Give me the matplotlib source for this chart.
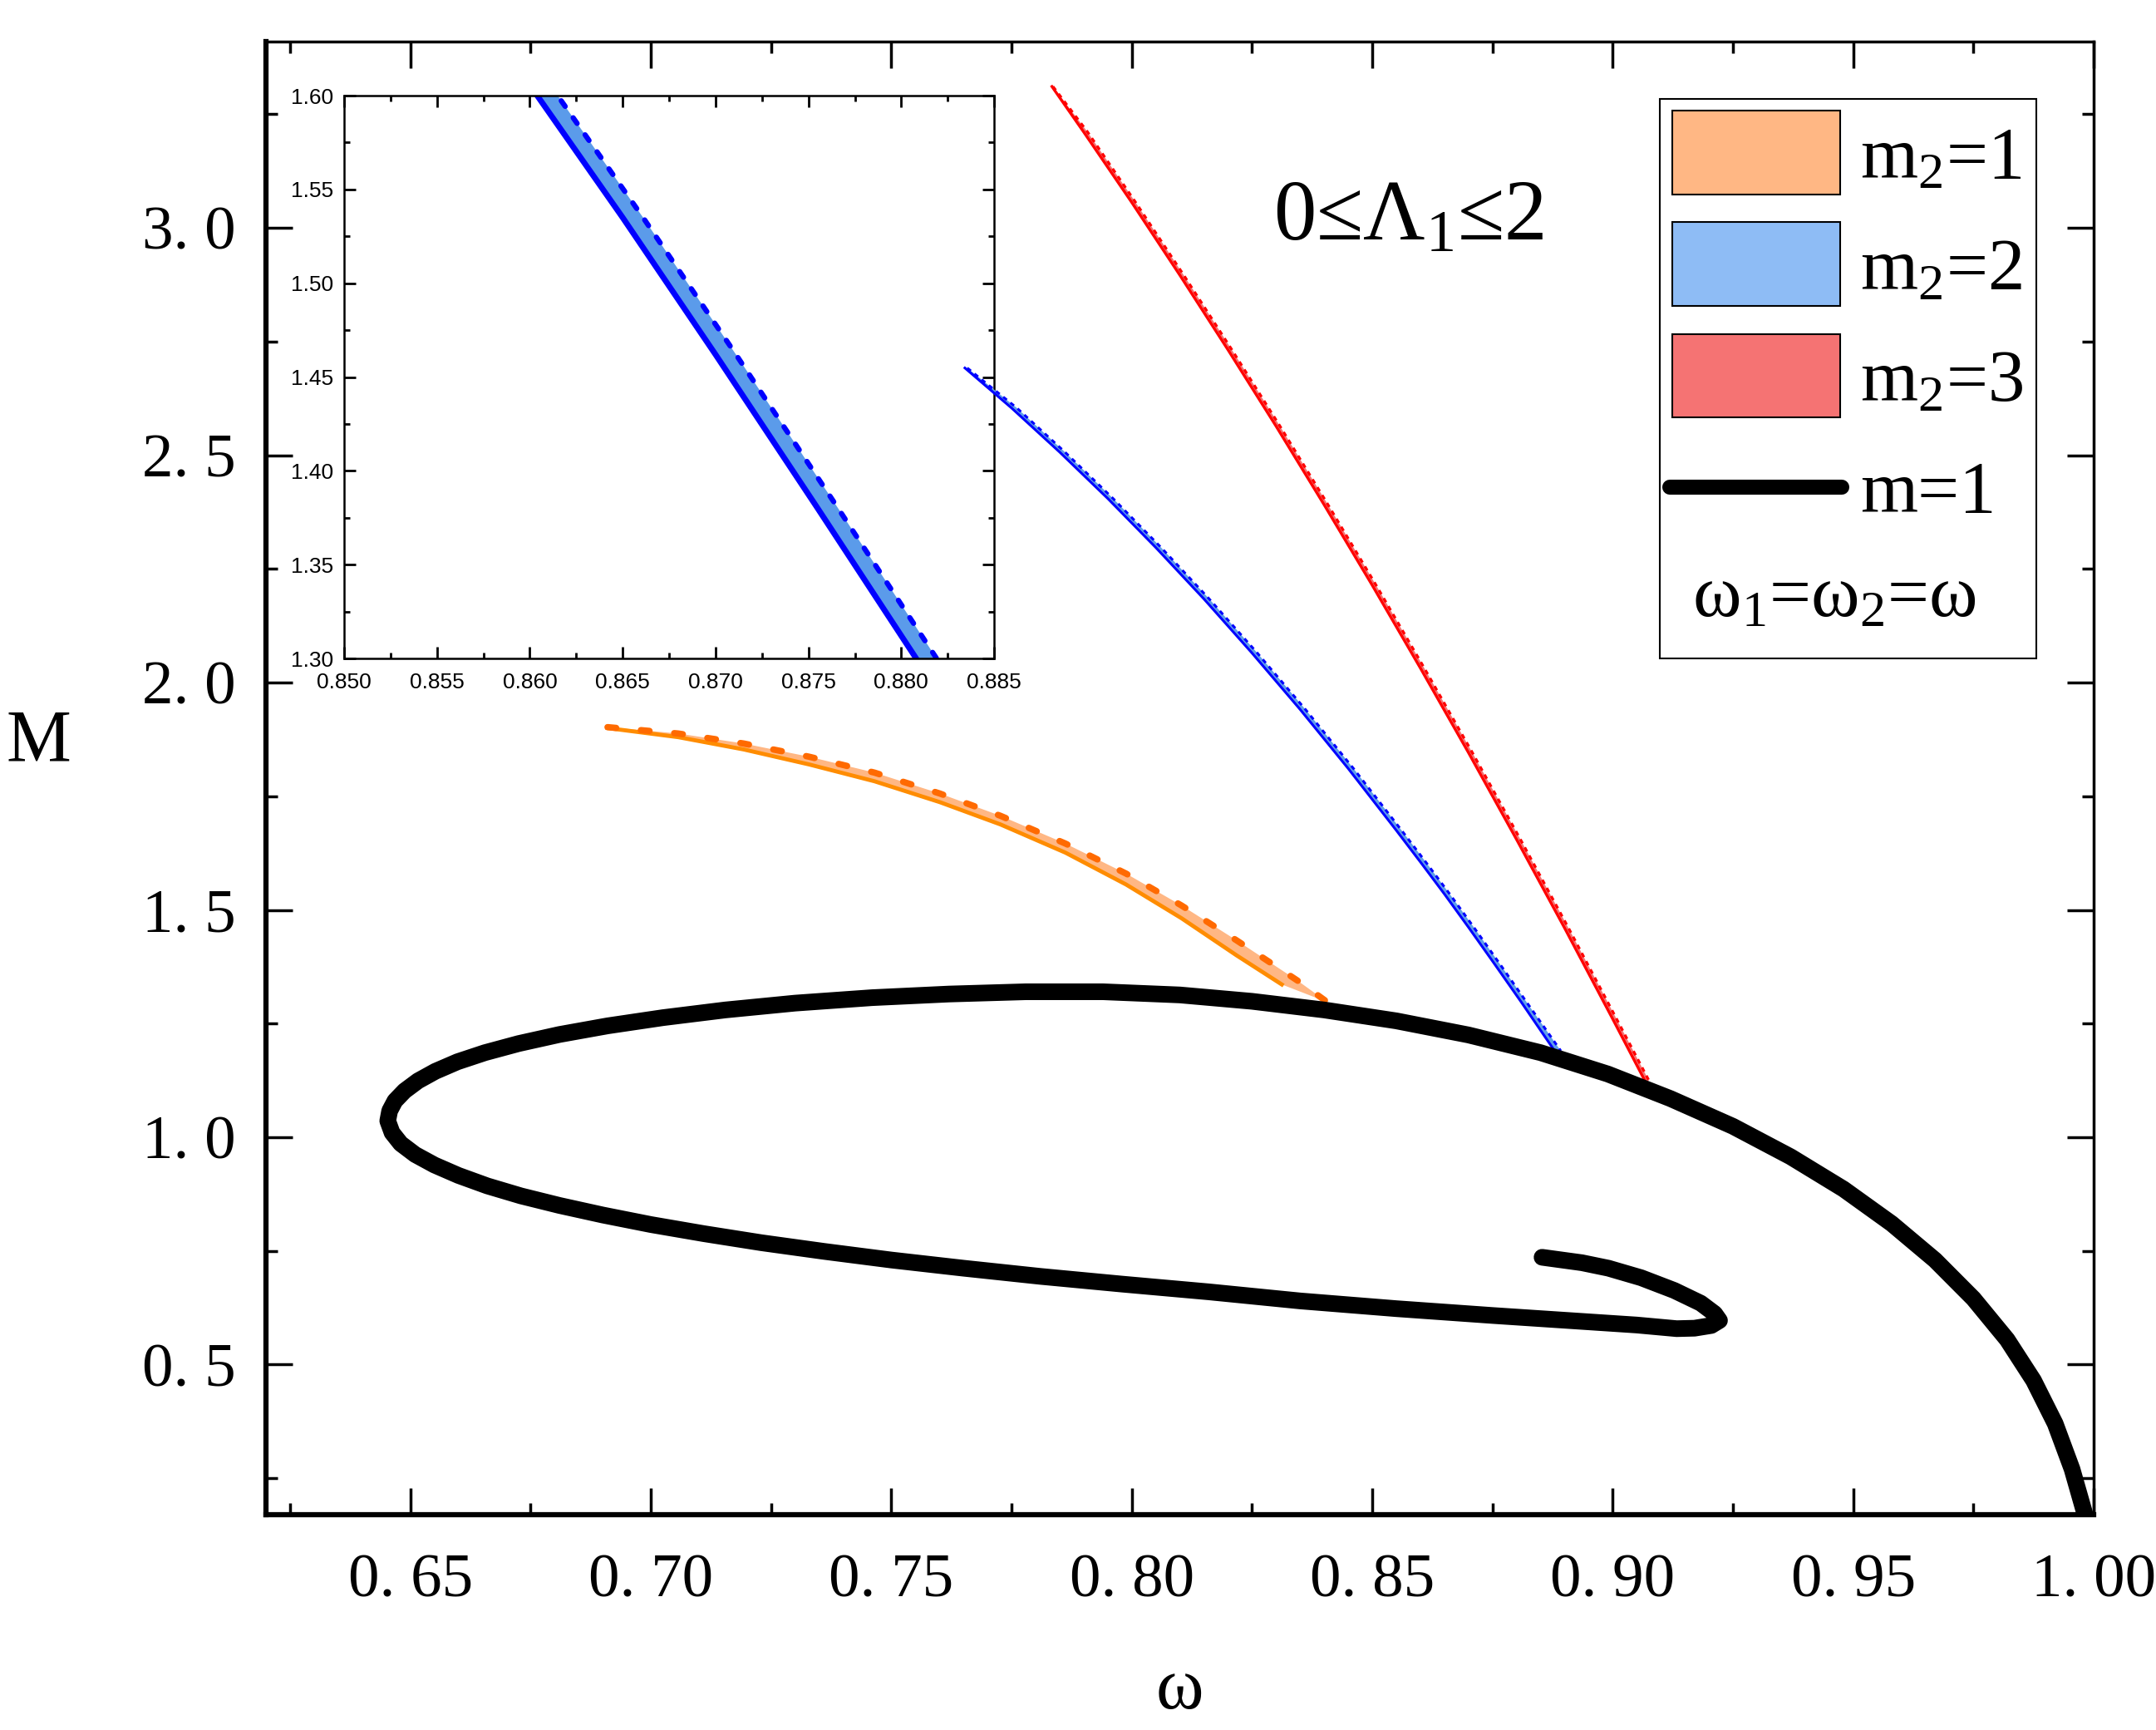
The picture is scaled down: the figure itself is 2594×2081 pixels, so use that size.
import numpy as np
import matplotlib
matplotlib.use("Agg")
import matplotlib.pyplot as plt
from matplotlib.patches import Rectangle
from matplotlib.ticker import FixedLocator, MultipleLocator

plt.rcParams["font.family"] = ["Liberation Serif", "DejaVu Serif"]
plt.rcParams["mathtext.fontset"] = "custom"
plt.rcParams["mathtext.rm"] = "Liberation Serif"
plt.rcParams["mathtext.it"] = "Liberation Serif:italic"
plt.rcParams["mathtext.default"] = "regular"
plt.rcParams["lines.scale_dashes"] = False

# m = 1 curve (black): inner end -> tip -> lower branch -> nose -> upper branch
omega_m1 = [0.8853, 0.8936, 0.8991, 0.9059, 0.9128, 0.9183, 0.9212, 0.9222, 0.9205, 0.9170, 0.9133,
            0.9050, 0.8950, 0.8750, 0.8550, 0.8350, 0.8160, 0.7980, 0.7810, 0.7650, 0.7500,
            0.7360, 0.7230, 0.7110, 0.7000, 0.6900, 0.6810, 0.6730, 0.6660, 0.6600, 0.6550,
            0.6510, 0.6480, 0.6462,
            0.6453,
            0.6457, 0.6468, 0.6488, 0.6516, 0.6552, 0.6598, 0.6655, 0.6725, 0.6810, 0.6910,
            0.7025, 0.7155, 0.7300, 0.7460, 0.7620, 0.7780, 0.7940, 0.8100, 0.8250, 0.8400,
            0.8550, 0.8700, 0.8850, 0.8990, 0.9120, 0.9250, 0.9370, 0.9480, 0.9580, 0.9670,
            0.9750, 0.9820, 0.9875, 0.9920, 0.9955, 0.9982, 1.0000]
M_m1 = [0.736, 0.724, 0.712, 0.691, 0.663, 0.635, 0.612, 0.597, 0.586, 0.580, 0.579,
        0.587, 0.594, 0.608, 0.623, 0.640, 0.660, 0.677, 0.694, 0.712, 0.730,
        0.749, 0.768, 0.788, 0.808, 0.829, 0.850, 0.871, 0.893, 0.916, 0.939,
        0.962, 0.986, 1.010,
        1.036,
        1.058, 1.080, 1.102, 1.124, 1.145, 1.166, 1.186, 1.206, 1.226, 1.245,
        1.263, 1.280, 1.295, 1.307, 1.315, 1.320, 1.320, 1.313, 1.299, 1.280,
        1.256, 1.225, 1.186, 1.139, 1.085, 1.024, 0.957, 0.886, 0.810, 0.730,
        0.645, 0.555, 0.465, 0.370, 0.270, 0.170, 0.080]

# m2 = 1 band (orange): solid = lower edge, dashed = upper edge
omega_o_solid = [0.6910, 0.7057, 0.7193, 0.7329, 0.7465, 0.7601, 0.7727, 0.7862, 0.7988, 0.8103, 0.8218, 0.8312]
M_o_solid = [1.900, 1.880, 1.853, 1.820, 1.783, 1.737, 1.688, 1.626, 1.556, 1.482, 1.400, 1.336]
omega_o_dash = [0.6910, 0.7057, 0.7193, 0.7329, 0.7465, 0.7601, 0.7727, 0.7862, 0.7988, 0.8103, 0.8218, 0.8344, 0.8407]
M_o_dash = [1.902, 1.888, 1.866, 1.837, 1.802, 1.756, 1.707, 1.646, 1.580, 1.510, 1.433, 1.345, 1.297]

# m2 = 2 band (blue)
omega_b_solid = [0.7653, 0.7750, 0.7850, 0.7950, 0.8050, 0.8150, 0.8250, 0.8350, 0.8450, 0.8550,
                 0.8604, 0.8650, 0.8700, 0.8755, 0.8810, 0.8885]
M_b_solid = [2.692, 2.604, 2.507, 2.405, 2.297, 2.184, 2.065, 1.941, 1.811, 1.675,
             1.600, 1.535, 1.462, 1.380, 1.297, 1.181]
omega_b_dash = [0.7658, 0.7761, 0.7861, 0.7961, 0.8061, 0.8161, 0.8261, 0.8361, 0.8461, 0.8561,
                0.8615, 0.8661, 0.8711, 0.8766, 0.8821, 0.8892]
M_b_dash = [2.692, 2.604, 2.507, 2.405, 2.297, 2.184, 2.065, 1.941, 1.811, 1.675,
            1.600, 1.535, 1.462, 1.380, 1.297, 1.190]

# m2 = 3 band (red)
omega_r_solid = [0.7834, 0.7900, 0.8000, 0.8100, 0.8200, 0.8300, 0.8400, 0.8500, 0.8600,
                 0.8700, 0.8800, 0.8900, 0.9000, 0.9070]
M_r_solid = [3.311, 3.211, 3.056, 2.896, 2.732, 2.564, 2.391, 2.214, 2.032,
             1.846, 1.655, 1.460, 1.260, 1.118]
omega_r_dash = [0.7836, 0.7908, 0.8008, 0.8108, 0.8208, 0.8308, 0.8408, 0.8508, 0.8608,
                0.8708, 0.8808, 0.8908, 0.9008, 0.9075]
M_r_dash = [3.311, 3.211, 3.056, 2.896, 2.732, 2.564, 2.391, 2.214, 2.032,
            1.846, 1.655, 1.460, 1.260, 1.125]

xticks = [0.65, 0.70, 0.75, 0.80, 0.85, 0.90, 0.95, 1.00]
xtick_labels = ["0. 65", "0. 70", "0. 75", "0. 80", "0. 85", "0. 90", "0. 95", "1. 00"]
yticks = [0.5, 1.0, 1.5, 2.0, 2.5, 3.0]
ytick_labels = ["0. 5", "1. 0", "1. 5", "2. 0", "2. 5", "3. 0"]
in_xticks = [0.850, 0.855, 0.860, 0.865, 0.870, 0.875, 0.880, 0.885]
in_xtick_labels = ["0.850", "0.855", "0.860", "0.865", "0.870", "0.875", "0.880", "0.885"]
in_yticks = [1.30, 1.35, 1.40, 1.45, 1.50, 1.55, 1.60]
in_ytick_labels = ["1.30", "1.35", "1.40", "1.45", "1.50", "1.55", "1.60"]
legend_labels = ["m$_2$=1", "m$_2$=2", "m$_2$=3", "m=1"]

fig = plt.figure(figsize=(25.94, 20.81), dpi=100)
fig.patch.set_facecolor("white")

ax = fig.add_axes([0.1234, 0.1245, 0.8477, 0.8515])
ax.set_zorder(2)
ax.patch.set_visible(False)

# bands
ax.fill(omega_o_dash + omega_o_solid[::-1], M_o_dash + M_o_solid[::-1], color="#FFB784", lw=0, zorder=2)
ax.fill(omega_b_dash + omega_b_solid[::-1], M_b_dash + M_b_solid[::-1], color="#5F9FEA", lw=0, zorder=2)
ax.fill(omega_r_dash + omega_r_solid[::-1], M_r_dash + M_r_solid[::-1], color="#F57373", lw=0, zorder=2)

ax.plot(omega_o_solid, M_o_solid, color="#FF8C00", lw=3.5, zorder=3)
ax.plot(omega_o_dash, M_o_dash, color="#FF6A00", lw=5.5, ls=(0, (7.5, 21.5)),
        dash_capstyle="round", zorder=3)
ax.plot(omega_b_solid, M_b_solid, color="#0000FF", lw=2.2, zorder=3)
ax.plot(omega_b_dash, M_b_dash, color="#0000FF", lw=2.2, ls=(0, (4, 4)), zorder=3)
ax.plot(omega_r_solid, M_r_solid, color="#FF0000", lw=2.4, zorder=3)
ax.plot(omega_r_dash, M_r_dash, color="#FF0000", lw=2.4, ls=(0, (4, 4)), zorder=3)

ax.plot(omega_m1, M_m1, color="black", lw=14.4, solid_capstyle="round",
        solid_joinstyle="round", zorder=5)

ax.set_xlim(0.62, 1.0)
ax.set_ylim(0.17, 3.41)
ax.xaxis.set_major_locator(FixedLocator(xticks))
ax.set_xticklabels(xtick_labels)
ax.yaxis.set_major_locator(FixedLocator(yticks))
ax.set_yticklabels(ytick_labels)
ax.xaxis.set_minor_locator(MultipleLocator(0.025))
ax.yaxis.set_minor_locator(MultipleLocator(0.25))
ax.tick_params(which="both", direction="in", top=True, right=True, width=2.5, labelsize=54)
ax.tick_params(which="major", length=23)
ax.tick_params(which="minor", length=10)
ax.tick_params(axis="x", pad=34)
ax.tick_params(axis="y", pad=26)
for side in ["left", "bottom"]:
    ax.spines[side].set_linewidth(4.5)
for side in ["top", "right"]:
    ax.spines[side].set_linewidth(2.5)

# legend box
ax.add_patch(Rectangle((0.7628, 0.5810), 0.2058, 0.3799, transform=ax.transAxes,
                       facecolor="white", edgecolor="black", lw=1.5, zorder=6))
patch_colors = ["#FFB784", "#8EBCF5", "#F57373"]
patch_bottoms = [0.8962, 0.8207, 0.7448]
label_baselines = [0.9070, 0.8313, 0.7556, 0.6803]
for c, yb in zip(patch_colors, patch_bottoms):
    ax.add_patch(Rectangle((0.7693, yb), 0.0921, 0.0567, transform=ax.transAxes,
                           facecolor=c, edgecolor="black", lw=1.5, zorder=7))
ax.plot([0.7681, 0.8622], [0.6976, 0.6976], transform=ax.transAxes, color="black",
        lw=13, solid_capstyle="round", zorder=7, clip_on=False)
for lab, yb in zip(legend_labels, label_baselines):
    ax.text(0.8722, yb, lab, transform=ax.transAxes, fontsize=64, ha="left",
            va="baseline", zorder=8)
ax.text(0.8580, 0.6103, "ω$_1$=ω$_2$=ω", transform=ax.transAxes, fontsize=64,
        ha="center", va="baseline", zorder=8)

ax.text(0.6252, 0.8652, "0≤Λ$_1$≤2", transform=ax.transAxes, fontsize=74,
        ha="center", va="baseline", zorder=8)

fig.text(0.018, 0.571, "M", fontsize=63, ha="center", va="center")
fig.text(0.547, 0.023, "ω", fontsize=63, ha="center", va="center")

# inset
axin = fig.add_axes([0.1596, 0.6194, 0.3015, 0.3253])
axin.set_zorder(1)
axin.fill(omega_b_dash + omega_b_solid[::-1], M_b_dash + M_b_solid[::-1], color="#5B9BEA", lw=0)
axin.plot(omega_b_solid, M_b_solid, color="#0000FF", lw=5)
axin.plot(omega_b_dash, M_b_dash, color="#0000FF", lw=4.5, ls=(0, (6, 12)), dash_capstyle="round")
axin.set_xlim(0.850, 0.885)
axin.set_ylim(1.30, 1.60)
axin.xaxis.set_major_locator(FixedLocator(in_xticks))
axin.set_xticklabels(in_xtick_labels, fontfamily="Liberation Sans")
axin.yaxis.set_major_locator(FixedLocator(in_yticks))
axin.set_yticklabels(in_ytick_labels, fontfamily="Liberation Sans")
axin.xaxis.set_minor_locator(MultipleLocator(0.0025))
axin.yaxis.set_minor_locator(MultipleLocator(0.025))
axin.tick_params(which="both", direction="in", top=True, right=True, width=2, labelsize=19)
axin.tick_params(which="major", length=10)
axin.tick_params(which="minor", length=5)
axin.tick_params(axis="x", pad=12)
axin.tick_params(axis="y", pad=9)
for side in axin.spines:
    axin.spines[side].set_linewidth(1.8)

fig.savefig("out.png", dpi=100, facecolor="white")
